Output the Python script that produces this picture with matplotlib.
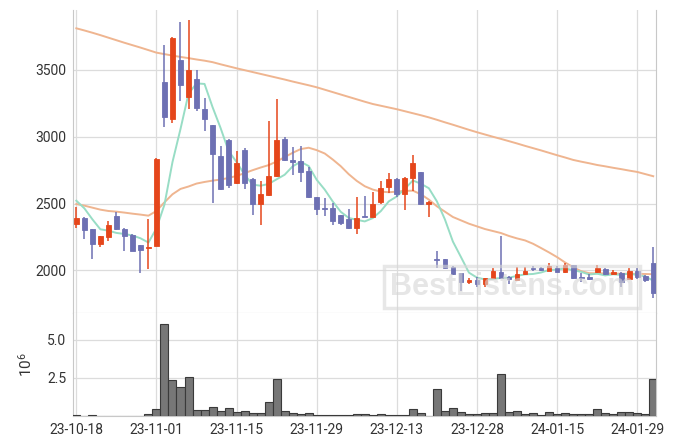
import matplotlib
matplotlib.use('Agg')
import matplotlib.pyplot as plt
import numpy as np
import pandas as pd

plt.rcParams['font.family'] = ['Roboto', 'DejaVu Sans']

# Trading days (KRX): weekdays minus market holidays
HOLIDAYS = ['2023-12-25', '2023-12-29', '2024-01-01']
dates = pd.bdate_range('2023-10-18', '2024-01-31')
dates = dates[~dates.isin(pd.to_datetime(HOLIDAYS))]

opens = [2346, 2390, 2308, 2200, 2253, 2408, 2308, 2266, 2188, 2170,
         2185, 3412, 3135, 3575, 3300, 3432, 3210, 3088, 2859, 2976,
         2652, 2901, 2682, 2497, 2567, 2707, 2984, 2825, 2819, 2747,
         2548, 2468, 2465, 2413, 2385, 2316, 2408, 2402, 2515, 2627,
         2684, 2570, 2694, 2734, 2495, 2088, 2086, 2028, 1979, 1912,
         1929, 1899, 1942, 1991, 1954, 1929, 1972, 2018, 2021, 1999,
         2021, 1991, 2041, 1948, 1948, 1991, 2011, 1972, 1984, 1936,
         1996, 1961, 2058]
highs = [2477, 2398, 2310, 2260, 2368, 2438, 2315, 2270, 2190, 2383,
         2840, 3689, 3745, 3857, 3874, 3500, 3288, 3090, 2931, 2980,
         2896, 2914, 2690, 2672, 3118, 3281, 3000, 2921, 2931, 2772,
         2550, 2540, 2507, 2418, 2458, 2548, 2560, 2590, 2672, 2727,
         2690, 2697, 2864, 2740, 2520, 2144, 2088, 2032, 1982, 1942,
         1949, 1945, 2016, 2256, 1956, 2028, 2024, 2034, 2024, 2054,
         2031, 2054, 2044, 1979, 1974, 2041, 2016, 2006, 1988, 2021,
         2016, 1965, 2174]
lows = [2320, 2233, 2088, 2174, 2223, 2300, 2144, 2145, 1979, 2013,
        2180, 3076, 3101, 3268, 3206, 3193, 3043, 2507, 2600, 2619,
        2645, 2612, 2413, 2338, 2560, 2700, 2820, 2714, 2662, 2545,
        2417, 2408, 2343, 2338, 2308, 2271, 2400, 2400, 2497, 2577,
        2548, 2452, 2597, 2490, 2398, 2021, 2014, 1965, 1849, 1899,
        1877, 1877, 1940, 1944, 1897, 1927, 1970, 1999, 1997, 1997,
        1986, 1979, 1940, 1916, 1932, 1979, 1965, 1970, 1874, 1934,
        1936, 1912, 1797]
closes = [2390, 2303, 2200, 2258, 2338, 2308, 2260, 2148, 2153, 2178,
          2834, 3150, 3739, 3388, 3500, 3218, 3131, 2871, 2612, 2640,
          2802, 2657, 2497, 2572, 2707, 2976, 2827, 2815, 2739, 2548,
          2462, 2462, 2368, 2353, 2320, 2390, 2402, 2495, 2615, 2684,
          2572, 2690, 2802, 2495, 2515, 2082, 2016, 1974, 1916, 1930,
          1901, 1942, 1999, 1946, 1940, 1974, 1996, 2014, 2000, 2034,
          1991, 2041, 1942, 1944, 1934, 2021, 1972, 1991, 1916, 1996,
          1951, 1927, 1829]
# volume in millions of shares
volumes = [0.06, 0.02, 0.05, 0.02, 0.02, 0.02, 0.02, 0.02, 0.02, 0.13,
           0.46, 6.05, 2.38, 1.92, 2.58, 0.41, 0.41, 0.60, 0.34, 0.54,
           0.28, 0.34, 0.21, 0.21, 0.93, 2.45, 0.34, 0.21, 0.15, 0.21,
           0.05, 0.05, 0.05, 0.05, 0.10, 0.15, 0.15, 0.05, 0.15, 0.05,
           0.05, 0.05, 0.47, 0.21, 0.03, 1.79, 0.34, 0.54, 0.28, 0.15,
           0.15, 0.21, 0.21, 2.78, 0.28, 0.34, 0.15, 0.21, 0.05, 0.28,
           0.15, 0.21, 0.15, 0.15, 0.15, 0.47, 0.21, 0.15, 0.28, 0.28,
           0.21, 0.15, 2.45]

ma5 = [2522, 2465, 2383, 2308, 2298, 2281, 2273, 2262, 2241, 2209,
       2315, 2493, 2811, 3058, 3322, 3399, 3395, 3222, 3066, 2894,
       2811, 2716, 2642, 2634, 2647, 2682, 2716, 2779, 2813, 2781,
       2678, 2605, 2516, 2439, 2393, 2379, 2367, 2392, 2444, 2517,
       2554, 2611, 2673, 2649, 2615, 2517, 2382, 2216, 2101, 1984,
       1947, 1933, 1938, 1944, 1946, 1960, 1971, 1974, 1985, 2004,
       2007, 2016, 2002, 1990, 1970, 1976, 1963, 1972, 1967, 1979,
       1965, 1956, 1924]
ma20 = [2497, 2485, 2470, 2455, 2445, 2440, 2433, 2425, 2418, 2410,
        2445, 2510, 2570, 2610, 2628, 2650, 2662, 2672, 2680, 2692,
        2707, 2728, 2750, 2770, 2788, 2815, 2848, 2880, 2908, 2918,
        2900, 2875, 2830, 2780, 2720, 2670, 2630, 2605, 2590, 2585,
        2590, 2595, 2597, 2570, 2530, 2480, 2440, 2400, 2375, 2350,
        2330, 2310, 2295, 2280, 2258, 2240, 2225, 2200, 2168, 2135,
        2100, 2060, 2025, 1995, 1980, 1979, 1978, 1977, 1976, 1975,
        1975, 1974, 1972]
ma_long = [3811, 3795, 3778, 3760, 3741, 3722, 3703, 3685, 3667, 3648,
           3629, 3618, 3607, 3597, 3588, 3578, 3569, 3558, 3542, 3527,
           3512, 3498, 3484, 3470, 3456, 3442, 3428, 3413, 3399, 3385,
           3370, 3352, 3334, 3316, 3298, 3280, 3262, 3245, 3232, 3219,
           3206, 3191, 3176, 3161, 3145, 3127, 3108, 3090, 3071, 3052,
           3034, 3017, 3000, 2984, 2967, 2950, 2932, 2915, 2898, 2880,
           2862, 2845, 2827, 2814, 2802, 2789, 2779, 2768, 2758, 2747,
           2737, 2721, 2705]

PRICE_TICKS = [2000, 2500, 3000, 3500]
VOL_TICKS = [2.5, 5.0]
TICK_EVERY = 10

UP = '#e5461b'
DOWN = '#6d70b3'
GRID = '#dcdcdc'
SPINE = '#c8c8c8'

df = pd.DataFrame({'open': opens, 'high': highs, 'low': lows,
                   'close': closes, 'volume': volumes}, index=dates)
x = np.arange(len(df))
up = df['close'] >= df['open']
colors = np.where(up, UP, DOWN)

fig = plt.figure(figsize=(6.75, 4.44), dpi=100)
ax1 = fig.add_axes([0.1081, 0.295, 0.8638, 0.6825])
ax2 = fig.add_axes([0.1081, 0.063, 0.8638, 0.232], sharex=ax1)

for ax in (ax1, ax2):
    ax.set_axisbelow(True)
    ax.grid(True, color=GRID, linewidth=0.9)
    ax.tick_params(length=0, labelsize=10, colors='#333333', pad=5)
    for side, sp in ax.spines.items():
        sp.set_color(SPINE)
    ax.spines['top'].set_visible(False)

# moving averages
ax1.plot(x, ma_long, color='#efb590', linewidth=1.4, zorder=2)
ax1.plot(x, ma20, color='#efb590', linewidth=1.4, zorder=2)
ax1.plot(x, ma5, color='#98ddc5', linewidth=1.4, zorder=2)

# candles
ax1.vlines(x, df['low'], df['high'], colors=colors, linewidth=1.1, zorder=3)
body_lo = np.minimum(df['open'], df['close'])
body_h = np.abs(df['close'] - df['open'])
ax1.bar(x, body_h, bottom=body_lo, width=0.6, color=colors,
        edgecolor=colors, linewidth=0.6, zorder=4)

ax1.set_ylim(1682, 3948)
ax1.set_yticks(PRICE_TICKS)
ax1.set_yticklabels([str(v) for v in PRICE_TICKS])
ax1.tick_params(axis='x', labelbottom=False)

# volume
ax2.bar(x, df['volume'], width=1.0, color='#777777', edgecolor='#3a3a3a',
        linewidth=0.8, zorder=3)
ax2.set_ylim(0, 6.75)
ax2.set_yticks(VOL_TICKS)
ax2.set_yticklabels(['2.5', '5.0'])
ax2.set_ylabel(r'$\mathregular{10^{6}}$', fontsize=11, labelpad=9, color='#333333')

tick_pos = x[::TICK_EVERY]
ax2.set_xticks(tick_pos)
ax2.set_xticklabels([d.strftime('%y-%m-%d') for d in df.index[::TICK_EVERY]])
ax2.set_xlim(-0.42, 72.35)

# watermark
fig.text(0.7585, 0.3536, 'BestListens.com', fontsize=22, fontweight='bold',
         family='Liberation Sans', color='#d6d6d6', alpha=0.6,
         ha='center', va='center', zorder=10,
         bbox=dict(boxstyle='square,pad=0.2', facecolor='none',
                   edgecolor='#d8d8d8', linewidth=2.5, alpha=0.6))

fig.savefig('out.png', dpi=100)
